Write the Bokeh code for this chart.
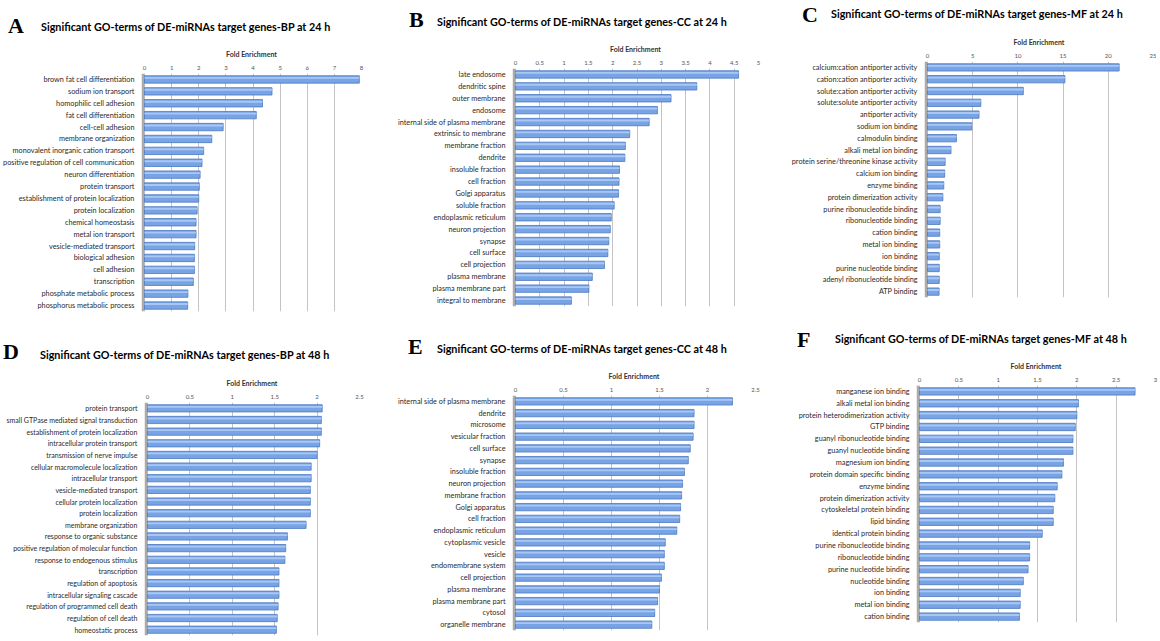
from bokeh.plotting import figure
from bokeh.models import FactorRange, Range1d, BoxAnnotation, FixedTicker, NumeralTickFormatter, ColumnDataSource, Spacer, Div
from bokeh.layouts import row, column
from bokeh.transform import dodge
from bokeh.embed import file_html
from bokeh.resources import INLINE

# ---------------- data ----------------
a_terms = ["brown fat cell differentiation", "sodium ion transport", "homophilic cell adhesion",
           "fat cell differentiation", "cell-cell adhesion", "membrane organization",
           "monovalent inorganic cation transport", "positive regulation of cell communication",
           "neuron differentiation", "protein transport", "establishment of protein localization",
           "protein localization", "chemical homeostasis", "metal ion transport",
           "vesicle-mediated transport", "biological adhesion", "cell adhesion", "transcription",
           "phosphate metabolic process", "phosphorus metabolic process"]
a_values = [7.92, 4.7, 4.35, 4.12, 2.9, 2.48, 2.18, 2.12, 2.05, 2.02, 2.0, 1.94, 1.9, 1.9,
            1.85, 1.84, 1.84, 1.8, 1.6, 1.59]

b_terms = ["late endosome", "dendritic spine", "outer membrane", "endosome",
           "internal side of plasma membrane", "extrinsic to membrane", "membrane fraction",
           "dendrite", "insoluble fraction", "cell fraction", "Golgi apparatus", "soluble fraction",
           "endoplasmic reticulum", "neuron projection", "synapse", "cell surface",
           "cell projection", "plasma membrane", "plasma membrane part", "integral to membrane"]
b_values = [4.59, 3.73, 3.2, 2.92, 2.75, 2.35, 2.26, 2.25, 2.14, 2.13, 2.12, 2.03, 1.97,
            1.95, 1.92, 1.9, 1.83, 1.58, 1.51, 1.15]

c_terms = ["calcium:cation antiporter activity", "cation:cation antiporter activity",
           "solute:cation antiporter activity", "solute:solute antiporter activity",
           "antiporter activity", "sodium ion binding", "calmodulin binding",
           "alkali metal ion binding", "protein serine/threonine kinase activity",
           "calcium ion binding", "enzyme binding", "protein dimerization activity",
           "purine ribonucleotide binding", "ribonucleotide binding", "cation binding",
           "metal ion binding", "ion binding", "purine nucleotide binding",
           "adenyl ribonucleotide binding", "ATP binding"]
c_values = [21.2, 15.2, 10.6, 5.9, 5.7, 4.9, 3.2, 2.6, 1.95, 1.9, 1.8, 1.7, 1.4, 1.4,
            1.35, 1.35, 1.3, 1.3, 1.3, 1.28]

d_terms = ["protein transport", "small GTPase mediated signal transduction",
           "establishment of protein localization", "intracellular protein transport",
           "transmission of nerve impulse", "cellular macromolecule localization",
           "intracellular transport", "vesicle-mediated transport",
           "cellular protein localization", "protein localization", "membrane organization",
           "response to organic substance", "positive regulation of molecular function",
           "response to endogenous stimulus", "transcription", "regulation of apoptosis",
           "intracellular signaling cascade", "regulation of programmed cell death",
           "regulation of cell death", "homeostatic process"]
d_values = [2.06, 2.05, 2.05, 2.03, 2.0, 1.93, 1.93, 1.92, 1.92, 1.92, 1.87, 1.65, 1.63,
            1.62, 1.55, 1.55, 1.55, 1.54, 1.53, 1.52]

e_terms = ["internal side of plasma membrane", "dendrite", "microsome", "vesicular fraction",
           "cell surface", "synapse", "insoluble fraction", "neuron projection",
           "membrane fraction", "Golgi apparatus", "cell fraction", "endoplasmic reticulum",
           "cytoplasmic vesicle", "vesicle", "endomembrane system", "cell projection",
           "plasma membrane", "plasma membrane part", "cytosol", "organelle membrane"]
e_values = [2.26, 1.86, 1.86, 1.85, 1.82, 1.8, 1.76, 1.74, 1.73, 1.72, 1.71, 1.68, 1.56,
            1.55, 1.55, 1.52, 1.5, 1.48, 1.45, 1.42]

f_terms = ["manganese ion binding", "alkali metal ion binding",
           "protein heterodimerization activity", "GTP binding",
           "guanyl ribonucleotide binding", "guanyl nucleotide binding", "magnesium ion binding",
           "protein domain specific binding", "enzyme binding", "protein dimerization activity",
           "cytoskeletal protein binding", "lipid binding", "identical protein binding",
           "purine ribonucleotide binding", "ribonucleotide binding", "purine nucleotide binding",
           "nucleotide binding", "ion binding", "metal ion binding", "cation binding"]
f_values = [2.74, 2.02, 2.0, 1.98, 1.95, 1.95, 1.83, 1.81, 1.75, 1.72, 1.7, 1.7, 1.56,
            1.4, 1.4, 1.38, 1.32, 1.28, 1.28, 1.27]

a_ticks = [0, 1, 2, 3, 4, 5, 6, 7, 8]
b_ticks = [0, 0.5, 1, 1.5, 2, 2.5, 3, 3.5, 4, 4.5, 5]
c_ticks = [0, 5, 10, 15, 20, 25]
d_ticks = [0, 0.5, 1, 1.5, 2, 2.5]
e_ticks = [0, 0.5, 1, 1.5, 2, 2.5]
f_ticks = [0, 0.5, 1, 1.5, 2, 2.5, 3]

titles = ["Significant GO-terms of DE-miRNAs target genes-BP at 24 h",
          "Significant GO-terms of DE-miRNAs target genes-CC at 24 h",
          "Significant GO-terms of DE-miRNAs target genes-MF at 24 h",
          "Significant GO-terms of DE-miRNAs target genes-BP at 48 h",
          "Significant GO-terms of DE-miRNAs target genes-CC at 48 h",
          "Significant GO-terms of DE-miRNAs target genes-MF at 48 h"]
letters = ["A", "B", "C", "D", "E", "F"]

FONT = "Lato"
WALL = 3
TOP = 28


def header(width, height, letter, title, letter_xy, title_xy):
    lx, ly = letter_xy
    tx, ty = title_xy
    html = (
        f'<div style="position:relative;width:{width}px;height:{height}px;overflow:hidden;'
        f'margin:0;padding:0;background:white;">'
        f'<span style="position:absolute;left:{lx}px;top:{ly - 11}px;'
        f"font-family:'Liberation Serif',serif;font-weight:bold;font-size:22px;"
        f'line-height:22px;white-space:nowrap;color:#000;">{letter}</span>'
        f'<span style="position:absolute;left:{tx}px;top:{ty - 7}px;'
        f"font-family:{FONT},sans-serif;font-weight:bold;font-size:10.8px;"
        f'line-height:12px;white-space:nowrap;color:#000;">{title}</span>'
        f'</div>'
    )
    return Div(text=html, width=width, height=height, margin=(0, 0, 0, 0))


def chart(terms, values, ticks, left, frame_w, right, frame_h, bottom, label_size="7.3px"):
    xmax = ticks[-1]
    start = -WALL * xmax / (frame_w - WALL)
    p = figure(width=left + frame_w + right, height=TOP + frame_h + bottom,
               y_range=FactorRange(factors=terms[::-1], range_padding=0),
               x_range=Range1d(start, xmax),
               x_axis_location="above",
               output_backend="svg", toolbar_location=None,
               min_border_left=left, min_border_right=right,
               min_border_top=TOP, min_border_bottom=bottom)
    p.outline_line_color = None
    p.background_fill_color = "white"
    p.border_fill_color = "white"

    src = ColumnDataSource(dict(term=terms, fe=values))
    p.hbar(y="term", right="fe", left=0, height=0.62, source=src,
           fill_color="#78a4e6", line_color="#4a77c2", line_width=0.8)
    p.hbar(y=dodge("term", 0.13, range=p.y_range), right="fe", left=0, height=0.16,
           source=src, fill_color="#a9c7f3", line_color=None)

    p.add_layout(BoxAnnotation(left=start, right=0, fill_color="#aaaaaa", fill_alpha=1,
                               line_color=None, level="underlay"))

    xa = p.xaxis[0]
    xa.ticker = FixedTicker(ticks=ticks)
    xa.formatter = NumeralTickFormatter(format="0.[0]")
    xa.axis_line_color = None
    xa.major_tick_line_color = None
    xa.minor_tick_line_color = None
    xa.major_tick_out = 0
    xa.major_tick_in = 0
    xa.minor_tick_out = 0
    xa.major_label_text_font = FONT
    xa.major_label_text_font_size = "6px"
    xa.major_label_text_color = "#555555"
    xa.major_label_standoff = 4
    xa.axis_label = "Fold Enrichment"
    xa.axis_label_text_font = FONT
    xa.axis_label_text_font_style = "bold"
    xa.axis_label_text_font_size = "7px"
    xa.axis_label_text_color = "#333333"
    xa.axis_label_standoff = 5

    ya = p.yaxis[0]
    ya.axis_line_color = None
    ya.major_tick_line_color = None
    ya.minor_tick_line_color = None
    ya.major_tick_out = 0
    ya.major_tick_in = 0
    ya.minor_tick_out = 0
    ya.major_label_text_font = FONT
    ya.major_label_text_font_size = label_size
    ya.major_label_text_color = "#2a2a2a"
    ya.major_label_standoff = 7

    p.xgrid.ticker = FixedTicker(ticks=ticks)
    p.xgrid.grid_line_color = "#c4c4c4"
    p.xgrid.grid_line_width = 1
    p.ygrid.grid_line_color = None
    return p


def block(head_h, letter, title, letter_xy, title_xy, p, dx):
    h = header(p.width, head_h, letter, title, letter_xy, title_xy)
    item = column(h, p, spacing=0)
    if dx > 0:
        item = row(Spacer(width=dx, height=head_h + p.height), item, spacing=0)
    return item


# columns share left/right borders, rows share top/bottom borders
cA = chart(a_terms, a_values, a_ticks, 141, 220, 6, 238, 10)
cB = chart(b_terms, b_values, b_ticks, 145, 246, 6, 238, 10)
cC = chart(c_terms, c_values, c_ticks, 155, 229, 3, 236, 10)
cD = chart(d_terms, d_values, d_ticks, 141, 215, 6, 233, 4, label_size="7px")
cE = chart(e_terms, e_values, e_ticks, 145, 243, 6, 235, 4)
cF = chart(f_terms, f_values, f_ticks, 155, 239, 3, 237, 4)

top_row = row(block(45, letters[0], titles[0], (8, 26), (41, 28), cA, 0),
              block(40, letters[1], titles[1], (42, 20), (70, 23), cB, 0),
              block(33, letters[2], titles[2], (33, 15), (62, 15), cC, 5),
              spacing=0)
bottom_row = row(block(53, letters[3], titles[3], (0, 31), (37, 35), cD, 3),
                 block(46, letters[4], titles[4], (41, 26), (70, 29), cE, 2),
                 block(36, letters[5], titles[5], (36, 19), (74, 19), cF, 0),
                 spacing=0)
layout = column(top_row, bottom_row, spacing=0)

with open("out.html", "w") as fh:
    fh.write(file_html(layout, INLINE))
